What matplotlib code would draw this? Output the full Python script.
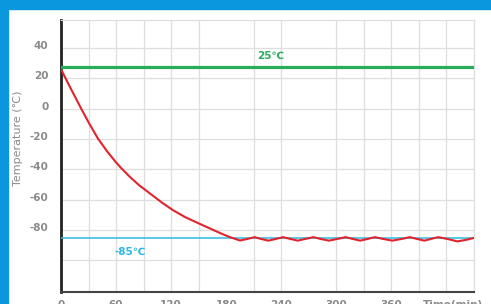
import numpy as np
import matplotlib
matplotlib.use("Agg")
import matplotlib.pyplot as plt
import matplotlib.transforms as mtrans
from matplotlib.patches import Rectangle

# data
time_min = [0, 10, 22, 30, 40, 50, 60, 66, 75, 85, 97, 110, 122, 135, 151, 162, 173, 180,
            187, 195, 203, 211, 218, 226, 234, 242, 250, 258, 266, 275, 283, 292, 301, 310,
            318, 326, 334, 342, 351, 361, 371, 380, 388, 396, 403, 411, 421, 432, 442, 450]
temp_c = [26, 14, 0, -9, -19.5, -28, -35.5, -39.5, -45, -50.5, -56, -62, -67, -71.5,
          -76, -79, -82, -83.8, -85.4, -87, -86, -84.8, -86, -87.1, -86, -84.8, -86,
          -87.1, -86, -84.8, -86, -87.1, -86, -84.8, -86, -87.1, -86, -84.8, -86, -87.1,
          -86, -84.8, -86, -87.1, -86, -84.8, -86, -87.6, -86.5, -85.3]
ambient = 27.5
setpoint = -85.3
xtick_vals = [0, 60, 120, 180, 240, 300, 360]
ytick_vals = [-100, -80, -60, -40, -20, 0, 20, 40]
ytick_labels = ["", "-80", "-60", "-40", "-20", "0", "20", "40"]
vgrid = [30, 60, 90, 120, 150, 210, 240, 300, 330, 360, 390, 420]

W, H = 491, 304
fig = plt.figure(figsize=(W / 100, H / 100), dpi=100, facecolor="white")
blue = "#0a97de"
fig.patches.append(Rectangle((0, 1 - 9 / H), 1, 9 / H, transform=fig.transFigure, color=blue, zorder=0))
fig.patches.append(Rectangle((0, 0), 8 / W, 1, transform=fig.transFigure, color=blue, zorder=0))

ax = fig.add_axes([61 / W, 12 / H, 413 / W, 272 / H])
ax.set_xlim(0, 450)
ax.set_ylim(-121, 58.5)

grid_c = "#dedede"
for g in vgrid:
    ax.axvline(g, color=grid_c, lw=0.9, zorder=0)
for g in ytick_vals:
    ax.axhline(g, color=grid_c, lw=0.9, zorder=0)

ax.axhline(ambient, color="#27ad5a", lw=2.3, zorder=3)
ax.axhline(setpoint, color="#2cb8e2", lw=1.1, zorder=3)
ax.plot(time_min, temp_c, color="#e3232b", lw=1.5, zorder=4)

ax.text(229, 35, "25℃", color="#27ad5a", fontsize=7.5, fontweight="bold", ha="center", va="center")
ax.text(75, -94.5, "-85℃", color="#2cb8e2", fontsize=7.5, fontweight="bold", ha="center", va="center")

for s in ["top", "right"]:
    ax.spines[s].set_color(grid_c)
    ax.spines[s].set_linewidth(0.9)
ax.spines["left"].set_color("#222222")
ax.spines["left"].set_linewidth(2)
ax.spines["bottom"].set_color("#444444")
ax.spines["bottom"].set_linewidth(1.5)

ax.set_xticks(xtick_vals)
ax.set_yticks(ytick_vals)
ax.set_yticklabels(ytick_labels)
ax.tick_params(length=0, labelsize=7.5, labelcolor="#8a8a8a")
ax.tick_params(axis="y", pad=9)
ax.tick_params(axis="x", pad=6)
shift = mtrans.ScaledTranslation(0, 3 / 100, fig.dpi_scale_trans)
for lab in ax.get_yticklabels():
    lab.set_transform(lab.get_transform() + shift)
    lab.set_fontweight("bold")
for lab in ax.get_xticklabels():
    lab.set_fontweight("bold")

ax.text(427, -121, "Time(min)", transform=ax.transData, fontsize=7.5, color="#8a8a8a",
        ha="center", va="top", fontweight="bold")
ax.texts[-1].set_transform(ax.transData + mtrans.ScaledTranslation(0, -8 / 100, fig.dpi_scale_trans))
ax.texts[-1].set_clip_on(False)

fig.text(18 / W, 1 - 138 / H, "Temperature (℃)", rotation=90, color="#8a8a8a",
         fontsize=8, ha="center", va="center")

fig.savefig("out.png", dpi=100, facecolor="white")
